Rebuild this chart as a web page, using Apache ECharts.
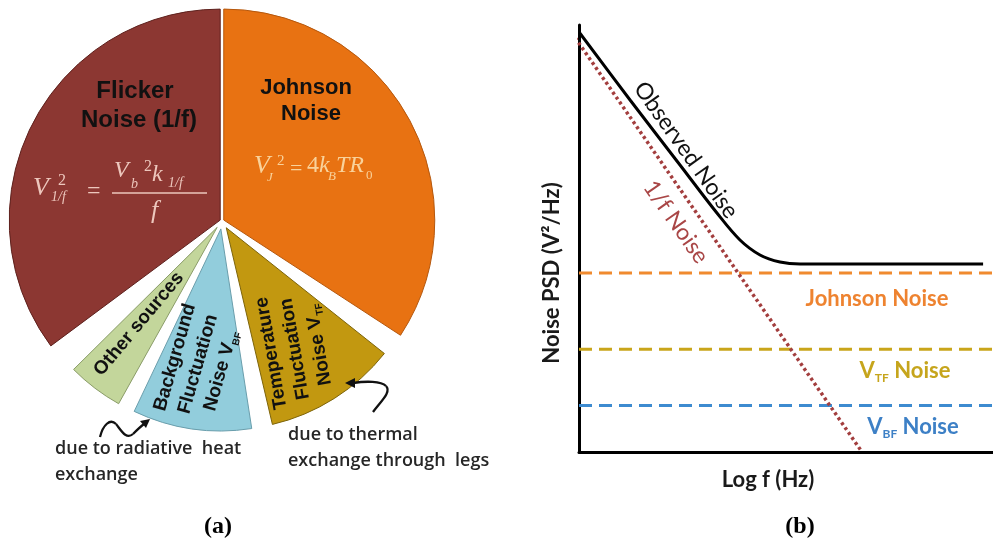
<!DOCTYPE html>
<html><head><meta charset="utf-8">
<script src="https://cdn.jsdelivr.net/npm/echarts@6/dist/echarts.min.js"></script>
<style>html,body{margin:0;padding:0;background:#fff}#c{width:993px;height:551px}</style>
</head><body><div id="c"></div>
<script>
// ---------- (a) pie: angular size (degrees) of each noise source, clockwise from 12 o'clock
const sliceNames = ['Johnson Noise', 'Temperature Fluctuation Noise', 'Background Fluctuation Noise', 'Other sources', 'Flicker Noise (1/f)'];
const sliceAngles = [123.1, 38.3, 34.2, 16.1, 126.6];
const gapAfter = [5.4, 4.4, 3.8, 8.1, 0];
const bigSlices = ['Johnson Noise', 'Flicker Noise (1/f)'];

// ---------- (b) noise PSD vs frequency (log-log, arbitrary units)
const obsFreq = [1, 7.3, 51, 215, 527, 1150, 2500, 5460, 6.8e6];
const obsPsd = [82800, 13240, 2295, 629, 304, 203, 168, 159, 159];
const flickerFreq = [0.86, 61000];
const flickerPsd = [71000, 1];
const flatFreq = [1, 1e7];
const johnsonPsd = 125;
const vtfPsd = 16;
const vbfPsd = 3.5;

// ---------- styles
const fill = {
  'Johnson Noise': '#E87212',
  'Temperature Fluctuation Noise': '#C29810',
  'Background Fluctuation Noise': '#92CDDC',
  'Other sources': '#C3D69B',
  'Flicker Noise (1/f)': '#8C3732'
};
const edge = {
  'Johnson Noise': '#B5580E',
  'Temperature Fluctuation Noise': '#7D640A',
  'Background Fluctuation Noise': '#6A9EAC',
  'Other sources': '#8A9C68',
  'Flicker Noise (1/f)': '#5E211D'
};
const CLEAR = {color: 'rgba(0,0,0,0)', borderWidth: 0};

function pieData(showBig) {
  const out = [];
  sliceNames.forEach((n, i) => {
    const vis = bigSlices.includes(n) === showBig;
    const st = vis ? {color: fill[n], borderColor: edge[n], borderWidth: 1} : CLEAR;
    out.push({name: n, value: sliceAngles[i], selected: vis, itemStyle: st, select: {itemStyle: st}});
    if (gapAfter[i] > 0) out.push({name: 'gap' + i, value: gapAfter[i], itemStyle: CLEAR, select: {itemStyle: CLEAR}});
  });
  return out;
}

function pieSeries(showBig, r, off) {
  return {
    type: 'pie', center: [222, 221], radius: [0, r], startAngle: 90, clockwise: true,
    selectedMode: 'multiple', selectedOffset: off, data: pieData(showBig),
    label: {show: false}, labelLine: {show: false}, emphasis: {disabled: true},
    animation: false
  };
}

function flat(v) { return flatFreq.map(f => [f, v]); }

function txt(text, x, y, font, color, o) {
  o = o || {};
  return {
    type: 'text', x: x, y: y, rotation: (o.rot || 0) * Math.PI / 180, silent: true, z: 100,
    style: {text: text, font: font, fill: color, textAlign: o.align || 'center',
      textVerticalAlign: 'middle', lineHeight: o.lh, rich: o.rich}
  };
}
function curve(p) {
  return {type: 'bezierCurve', silent: true, z: 100,
    shape: {x1: p[0], y1: p[1], cpx1: p[2], cpy1: p[3], cpx2: p[4], cpy2: p[5], x2: p[6], y2: p[7]},
    style: {stroke: '#111', lineWidth: 2.3, fill: null}};
}

const SANSB = '"Liberation Sans", Arial, sans-serif';
const LATO = 'Lato, "Open Sans", sans-serif';
const SERIF = '"Liberation Serif", "Times New Roman", serif';

const richSmall = {
  b: {font: 'bold 19px ' + SANSB, fill: '#111', lineHeight: 24},
  s: {font: 'bold 10px ' + SANSB, fill: '#111', lineHeight: 10, verticalAlign: 'bottom'}
};
function richB(color) {
  return {
    m: {font: 'bold 22px ' + LATO, fill: color, lineHeight: 26},
    s: {font: 'bold 12px ' + LATO, fill: color, lineHeight: 12, verticalAlign: 'bottom'}
  };
}

const FC = '#EDC7BD', JC = '#F9D29B';
const formula = [
  txt('V', 33, 188, 'italic 26px ' + SERIF, FC, {align: 'left'}),
  txt('2', 58, 181, '16px ' + SERIF, FC, {align: 'left'}),
  txt('1/f', 51, 197, 'italic 14px ' + SERIF, FC, {align: 'left'}),
  txt('=', 87, 192, '24px ' + SERIF, FC, {align: 'left'}),
  txt('V', 114, 171, 'italic 24px ' + SERIF, FC, {align: 'left'}),
  txt('b', 131, 184, 'italic 14px ' + SERIF, FC, {align: 'left'}),
  txt('2', 144, 167, '16px ' + SERIF, FC, {align: 'left'}),
  txt('k', 152, 175, 'italic 24px ' + SERIF, FC, {align: 'left'}),
  txt('1/f', 168, 183, 'italic 14px ' + SERIF, FC, {align: 'left'}),
  txt('f', 151, 211, 'italic 26px ' + SERIF, FC, {align: 'left'}),
  {type: 'line', silent: true, z: 100, shape: {x1: 112, y1: 193, x2: 207, y2: 193}, style: {stroke: FC, lineWidth: 1.5}},
  txt('V', 254, 166, 'italic 26px ' + SERIF, JC, {align: 'left'}),
  txt('J', 267, 178, 'italic 13px ' + SERIF, JC, {align: 'left'}),
  txt('2', 277, 161, '15px ' + SERIF, JC, {align: 'left'}),
  txt('=', 290, 169, '22px ' + SERIF, JC, {align: 'left'}),
  txt('4', 307, 166, '24px ' + SERIF, JC, {align: 'left'}),
  txt('k', 319, 166, 'italic 24px ' + SERIF, JC, {align: 'left'}),
  txt('B', 328, 177, 'italic 13px ' + SERIF, JC, {align: 'left'}),
  txt('TR', 336, 166, 'italic 24px ' + SERIF, JC, {align: 'left'}),
  txt('0', 366, 176, '13px ' + SERIF, JC, {align: 'left'})
];

const labelsA = [
  txt('Flicker', 135, 91, 'bold 24px ' + SANSB, '#111'),
  txt('Noise (1/f)', 139, 120, 'bold 24px ' + SANSB, '#111'),
  txt('Johnson', 306, 88, 'bold 22px ' + SANSB, '#111'),
  txt('Noise', 311, 114, 'bold 22px ' + SANSB, '#111'),
  txt('{b|Other sources}', 139, 324, '', '#111', {rot: 50, rich: richSmall}),
  txt('{b|Background}\n{b|Fluctuation}\n{b|Noise V}{s|BF}', 198, 364, '', '#111', {rot: 74, rich: richSmall}),
  txt('{b|Temperature}\n{b|Fluctuation}\n{b|Noise V}{s|TF}', 295, 349, '', '#111', {rot: 100, rich: richSmall}),
  txt('due to radiative  heat\nexchange', 55, 462, '600 18px "Open Sans", sans-serif', '#262626', {align: 'left', lh: 26}),
  txt('due to thermal\nexchange through  legs', 288, 448, '600 18px "Open Sans", sans-serif', '#262626', {align: 'left', lh: 26}),
  curve([100, 437, 103, 425, 110, 418, 116, 424]),
  curve([116, 424, 121, 430, 126, 440, 133, 434]),
  curve([133, 434, 137, 430, 140, 427, 144, 424]),
  {type: 'polygon', silent: true, z: 100, shape: {points: [[150, 419], [140, 421], [146, 428]]}, style: {fill: '#111'}},
  curve([373, 412, 380, 402, 392, 392, 386, 386]),
  curve([386, 386, 381, 381, 366, 381, 353, 383]),
  {type: 'polygon', silent: true, z: 100, shape: {points: [[345, 383], [355, 378], [355, 388]]}, style: {fill: '#111'}},
  txt('(a)', 218, 527, 'bold 24px ' + SERIF, '#000')
];

const labelsB = [
  txt('Observed Noise', 686, 150, '23px ' + LATO, '#111', {rot: -54.5}),
  txt('1/f Noise', 676, 222, '23px ' + LATO, '#A94646', {rot: -55}),
  txt('Johnson Noise', 877, 299, 'bold 22px ' + LATO, '#EE8330'),
  txt('{m|V}{s|TF}{m| Noise}', 905, 371, '', '#C6A51C', {rich: richB('#C6A51C')}),
  txt('{m|V}{s|BF}{m| Noise}', 913, 427, '', '#3D80C6', {rich: richB('#3D80C6')}),
  txt('Noise PSD (V²/Hz)', 552, 273, 'bold 22px ' + LATO, '#1a1a1a', {rot: 90}),
  txt('Log f (Hz)', 768, 480, 'bold 22px ' + LATO, '#1a1a1a'),
  txt('(b)', 800, 527, 'bold 24px ' + SERIF, '#000')
];

const axisCommon = {
  axisLine: {show: true, onZero: false, lineStyle: {color: '#000', width: 3}},
  axisTick: {show: false}, axisLabel: {show: false}, splitLine: {show: false}
};

const chart = echarts.init(document.getElementById('c'), null, {renderer: 'canvas'});
chart.setOption({
  animation: false,
  backgroundColor: '#fff',
  grid: {left: 579, top: 25, width: 414, height: 427, containLabel: false, outerBoundsMode: 'none'},
  xAxis: Object.assign({type: 'log', logBase: 10, min: 1, max: 1e7}, axisCommon),
  yAxis: Object.assign({type: 'log', logBase: 10, min: 1, max: 1e5}, axisCommon),
  series: [
    pieSeries(true, 211, 2),
    pieSeries(false, 202, 8),
    {type: 'line', name: 'Johnson', data: flat(johnsonPsd), showSymbol: false, silent: true,
      lineStyle: {color: '#F08A2E', width: 3, type: [13, 7]}},
    {type: 'line', name: 'VTF', data: flat(vtfPsd), showSymbol: false, silent: true,
      lineStyle: {color: '#C9A51A', width: 3, type: [13, 7]}},
    {type: 'line', name: 'VBF', data: flat(vbfPsd), showSymbol: false, silent: true,
      lineStyle: {color: '#3D8BD0', width: 3, type: [13, 7]}},
    {type: 'line', name: '1/f', data: flickerFreq.map((f, i) => [f, flickerPsd[i]]), showSymbol: false, silent: true, clip: false,
      lineStyle: {color: '#A33E3E', width: 3.5, type: [3, 3]}},
    {type: 'line', name: 'Observed', data: obsFreq.map((f, i) => [f, obsPsd[i]]), smooth: 0.35, showSymbol: false, silent: true, z: 5,
      lineStyle: {color: '#000', width: 3}}
  ],
  graphic: formula.concat(labelsA, labelsB)
});
</script>
</body></html>
